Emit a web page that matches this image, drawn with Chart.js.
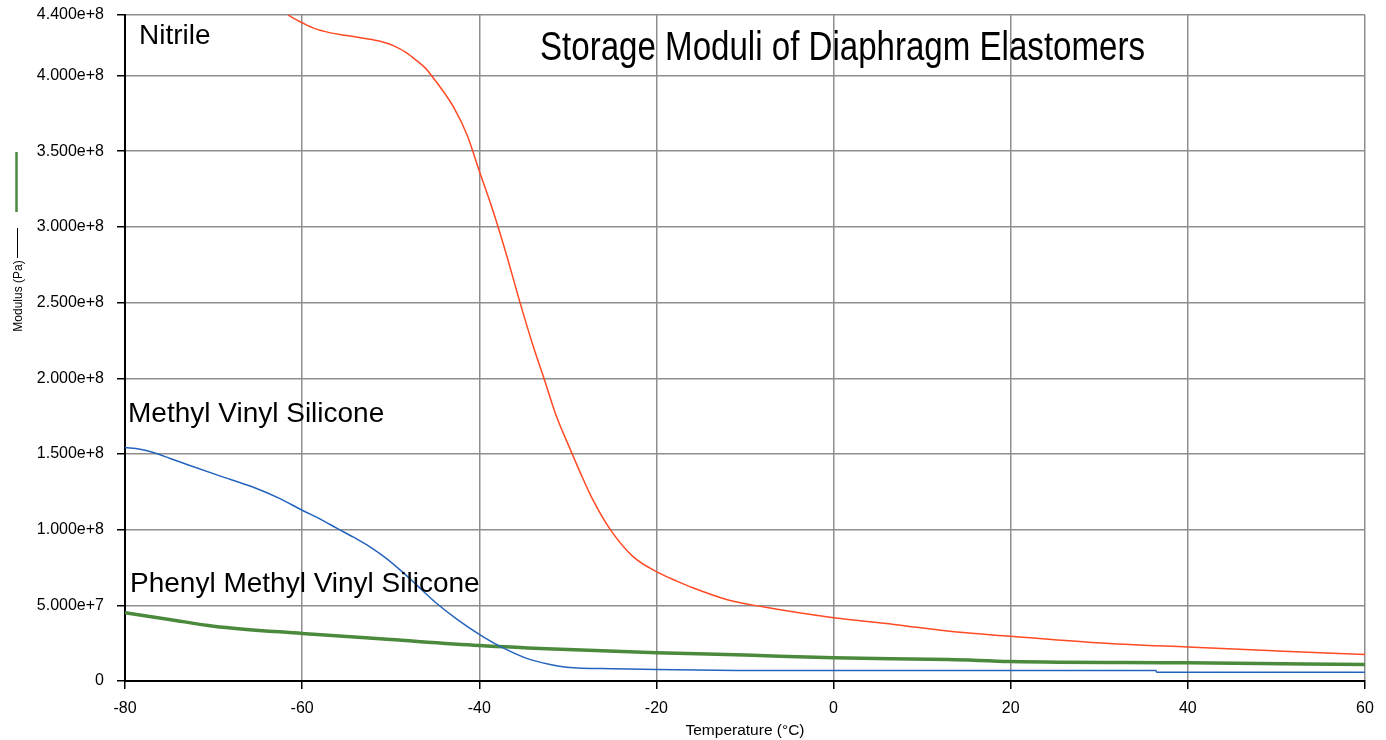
<!DOCTYPE html>
<html>
<head>
<meta charset="utf-8">
<title>Storage Moduli of Diaphragm Elastomers</title>
<script src="https://cdn.jsdelivr.net/npm/chart.js@4"></script>
<style>
  body { margin: 0; background: #fff; }
  canvas { display: block; }
</style>
</head>
<body>
<canvas id="modChart" width="1386" height="740"></canvas>
<script>
// temperature (°C) and storage modulus (Pa)
const nitrileT = [-61.6, -61.2, -60, -58.7, -56.8, -55, -53.1, -51.2, -49.7, -48.2, -47.1, -46, -45.4, -44.4, -42.9, -41.4, -40, -38.4, -36.9, -35.4, -33.9, -32.7, -31.3, -29.8, -28.6, -27.2, -25.2, -22.7, -20, -17.7, -15.9, -12.1, -8, 0, 6.8, 13.9, 20, 29.7, 40, 50.8, 60];
const nitrileE = [4.40e8, 4.386e8, 4.349e8, 4.313e8, 4.282e8, 4.265e8, 4.247e8, 4.227e8, 4.198e8, 4.15e8, 4.1e8, 4.044e8, 4.0e8, 3.923e8, 3.791e8, 3.61e8, 3.37e8, 3.097e8, 2.81e8, 2.5e8, 2.21e8, 2.0e8, 1.75e8, 1.54e8, 1.377e8, 1.2e8, 1.0e8, 8.25e7, 7.22e7, 6.6e7, 6.16e7, 5.39e7, 4.9e7, 4.18e7, 3.74e7, 3.23e7, 2.96e7, 2.53e7, 2.24e7, 1.97e7, 1.75e7];

const mvsT = [-80, -78.3, -76.8, -74.9, -73, -69.3, -65.5, -62.5, -60, -57.9, -56.1, -54.2, -52.3, -50.5, -48.6, -47, -44.9, -42.5, -40, -37.7, -34.8, -32, -30.1, -24.8, -6.6, 36.4, 36.5, 60];
const mvsE = [1.542e8, 1.531e8, 1.509e8, 1.47e8, 1.43e8, 1.355e8, 1.28e8, 1.205e8, 1.128e8, 1.068e8, 1.01e8, 9.5e7, 8.85e7, 8.1e7, 7.16e7, 6.3e7, 5.17e7, 4.07e7, 3.08e7, 2.3e7, 1.53e7, 1.09e7, 9.1e6, 8.1e6, 6.9e6, 6.9e6, 5.8e6, 5.8e6];

const pmvsT = [-80, -75, -70, -60, -50, -40, -30, -20, -10, 0, 13, 20, 40, 60];
const pmvsE = [4.51e7, 4.07e7, 3.62e7, 3.14e7, 2.74e7, 2.35e7, 2.08e7, 1.87e7, 1.71e7, 1.53e7, 1.42e7, 1.29e7, 1.2e7, 1.09e7];

const xTicks = [-80, -60, -40, -20, 0, 20, 40, 60];
const yTicks = [0, 5e7, 1e8, 1.5e8, 2e8, 2.5e8, 3e8, 3.5e8, 4e8, 4.4e8];

const FONT = "'Liberation Sans', Arial, sans-serif";
const toXY = (xs, ys) => xs.map((x, i) => ({ x: x, y: ys[i] }));

// titles, in-plot labels and the little key marks next to the y title
const labelsPlugin = {
  id: "labels",
  afterDraw(chart) {
    const c = chart.ctx;
    const area = chart.chartArea;
    c.save();
    c.fillStyle = "#000";
    c.textBaseline = "alphabetic";

    c.font = "28px " + FONT;
    c.textAlign = "left";
    c.fillText("Nitrile", 139, 44);
    c.fillText("Methyl Vinyl Silicone", 128, 422);
    c.fillText("Phenyl Methyl Vinyl Silicone", 130, 592);

    // chart title is drawn narrow, like the original
    c.font = "40px " + FONT;
    const title = "Storage Moduli of Diaphragm Elastomers";
    const w = c.measureText(title).width;
    c.save();
    c.translate(540, 60);
    c.scale(605 / w, 1);
    c.fillText(title, 0, 0);
    c.restore();

    c.font = "15.5px " + FONT;
    c.textAlign = "center";
    c.fillText("Temperature (°C)", (area.left + area.right) / 2, 735);

    c.save();
    c.translate(22, 296);
    c.rotate(-Math.PI / 2);
    c.font = "12px " + FONT;
    c.textAlign = "center";
    c.fillText("Modulus (Pa)", 0, 0);
    c.restore();

    c.strokeStyle = "#000";
    c.lineWidth = 1;
    c.beginPath();
    c.moveTo(17.5, 228);
    c.lineTo(17.5, 258);
    c.stroke();
    c.strokeStyle = "#4b8a3c";
    c.lineWidth = 2.5;
    c.beginPath();
    c.moveTo(16.5, 152);
    c.lineTo(16.5, 212);
    c.stroke();
    c.restore();
  },
};

new Chart(document.getElementById("modChart"), {
  type: "line",
  data: {
    datasets: [
      {
        label: "Nitrile",
        data: toXY(nitrileT, nitrileE),
        borderColor: "#ff4a24",
        borderWidth: 1.5,
        pointRadius: 0,
        cubicInterpolationMode: "monotone",
      },
      {
        label: "Methyl Vinyl Silicone",
        data: toXY(mvsT, mvsE),
        borderColor: "#2463bd",
        borderWidth: 1.5,
        pointRadius: 0,
        cubicInterpolationMode: "monotone",
      },
      {
        label: "Phenyl Methyl Vinyl Silicone",
        data: toXY(pmvsT, pmvsE),
        borderColor: "#4b8a3c",
        borderWidth: 3.5,
        pointRadius: 0,
        cubicInterpolationMode: "monotone",
      },
    ],
  },
  options: {
    responsive: false,
    animation: false,
    layout: { padding: { top: 15, right: 21, left: 0, bottom: 0 } },
    plugins: {
      legend: { display: false },
      tooltip: { enabled: false },
    },
    scales: {
      x: {
        type: "linear",
        min: -80,
        max: 60,
        afterFit: (s) => { s.height = 59; s.paddingLeft = 0; s.paddingRight = 0; },
        afterBuildTicks: (s) => { s.ticks = xTicks.map((v) => ({ value: v })); },
        grid: { color: "#8e8e8e", lineWidth: 1.5, tickColor: "#000", tickLength: 8 },
        border: { color: "#000", width: 2 },
        ticks: { color: "#000", padding: 10, maxRotation: 0, font: { family: FONT, size: 16 } },
      },
      y: {
        min: 0,
        max: 4.4e8,
        afterFit: (s) => { s.width = 125; s.paddingTop = 0; s.paddingBottom = 0; },
        afterBuildTicks: (s) => { s.ticks = yTicks.map((v) => ({ value: v })); },
        grid: { color: "#8e8e8e", lineWidth: 1.5, tickColor: "#000", tickLength: 8 },
        border: { color: "#000", width: 2 },
        ticks: {
          color: "#000",
          padding: 13,
          font: { family: FONT, size: 16 },
          callback: (v) => (v === 0 ? "0" : Number(v).toExponential(3)),
        },
      },
    },
  },
  plugins: [labelsPlugin],
});
</script>
</body>
</html>
